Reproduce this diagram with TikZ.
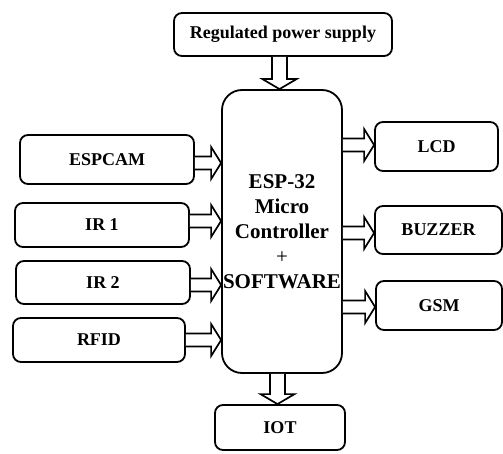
\documentclass[tikz,border=0pt]{standalone}
\usepackage{fontspec}
\setmainfont{Liberation Serif}
\usetikzlibrary{calc}
\tikzset{
  box/.style={draw, line width=1.8pt, rounded corners=8pt, inner sep=0pt, align=center, font=\fontsize{18}{20}\selectfont\bfseries},
  blk/.style={draw, line width=1.7pt, fill=white, line join=miter},
}
\newcommand\harr[2]{\draw[blk] let \p1=(#1), \p2=(#2) in (\x1,\y1+6.5pt) -- (\x2-10pt,\y1+6.5pt) -- (\x2-10pt,\y1+16pt) -- (\x2,\y1) -- (\x2-10pt,\y1-16pt) -- (\x2-10pt,\y1-6.5pt) -- (\x1,\y1-6.5pt);}
\newcommand\varr[2]{\draw[blk] let \p1=(#1), \p2=(#2) in (\x1-7.5pt,\y1) -- (\x1-7.5pt,\y2+10pt) -- (\x1-17pt,\y2+10pt) -- (\x1,\y2) -- (\x1+17pt,\y2+10pt) -- (\x1+7.5pt,\y2+10pt) -- (\x1+7.5pt,\y1);}
\begin{document}
\begin{tikzpicture}[x=1pt,y=1pt]
\useasboundingbox (0,0) rectangle (503,453);
\node[box, minimum width=218pt, minimum height=43pt] (pow) at (283,418.5) {Regulated power supply};
\node[box, rounded corners=20pt, minimum width=120pt, minimum height=283pt, font=\fontsize{21}{25}\selectfont\bfseries] (main) at (282,221.5) {ESP-32\\Micro\\Controller\\\mdseries+\\SOFTWARE};
\node[box, minimum width=174pt, minimum height=49pt] (esp) at (107,293.5) {ESPCAM};
\node[box, minimum width=174pt, minimum height=44pt] (ir1) at (102,228) {IR 1};
\node[box, minimum width=174pt, minimum height=43pt] (ir2) at (103,170.5) {IR 2};
\node[box, minimum width=172pt, minimum height=44pt] (rfid) at (99,113) {RFID};
\node[box, minimum width=123pt, minimum height=49pt] (lcd) at (436.5,306.5) {LCD};
\node[box, minimum width=127pt, minimum height=48pt] (buz) at (438.5,223) {BUZZER};
\node[box, minimum width=126pt, minimum height=49pt] (gsm) at (439,147.5) {GSM};
\node[box, minimum width=130pt, minimum height=45pt] (iot) at (280,25.5) {IOT};
\coordinate (a1) at ($(esp.east)+(0,-3.5)$);
\coordinate (a2) at ($(ir1.east)+(0,4)$);
\coordinate (a3) at ($(ir2.east)+(0,-2.5)$);
\coordinate (a4) at (rfid.east);
\coordinate (b1) at (main.east |- {$(lcd.west)+(0,1.5)$});
\coordinate (b2) at (main.east |- {$(buz.west)+(0,-3)$});
\coordinate (b3) at (main.east |- {$(gsm.west)+(0,-1.5)$});
\coordinate (c1) at (pow.south -| 279.5,0);
\coordinate (c2) at (main.south -| 277.5,0);
\harr{a1}{a1 -| main.west}
\harr{a2}{a2 -| main.west}
\harr{a3}{a3 -| main.west}
\harr{a4}{a4 -| main.west}
\harr{b1}{b1 -| lcd.west}
\harr{b2}{b2 -| buz.west}
\harr{b3}{b3 -| gsm.west}
\varr{c1}{c1 |- main.north}
\varr{c2}{c2 |- iot.north}
\end{tikzpicture}
\end{document}
